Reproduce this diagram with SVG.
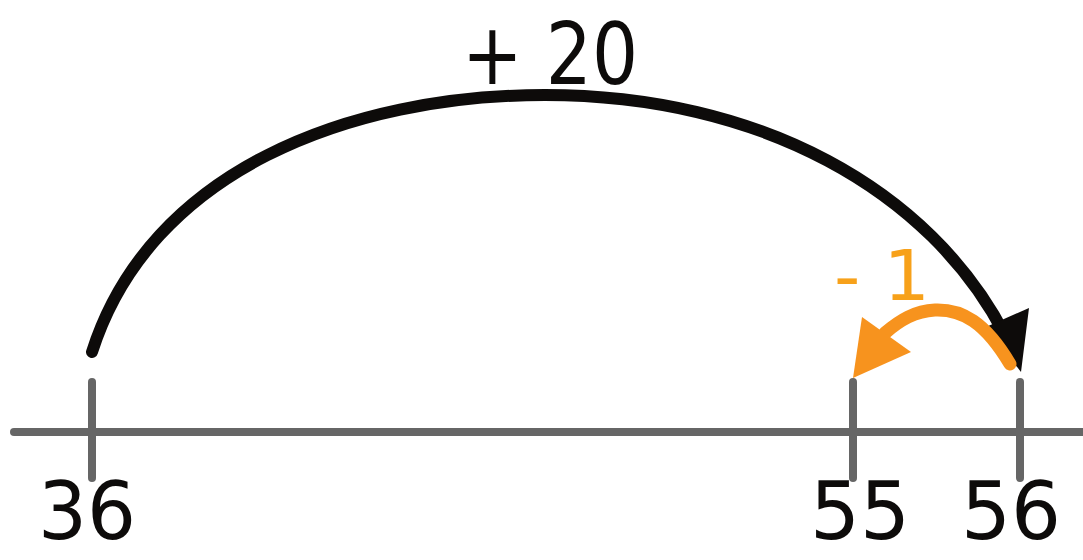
<svg xmlns="http://www.w3.org/2000/svg" width="1083" height="560" viewBox="0 0 1083 560">
<style>
.axis{stroke:#666;stroke-width:8;stroke-linecap:round;fill:none}
.lbl{font-family:"Comic Sans MS","DejaVu Sans","Liberation Sans",sans-serif;fill:#0d0b0a}
.num{font-size:80px}
.jump{fill:none;stroke-linecap:round}
</style>
<rect width="1083" height="560" fill="#fff"/>
<g id="number-line">
<line class="axis" x1="14" y1="432" x2="1083" y2="432"/>
</g>
<g id="tick-36"><line class="axis" x1="92" y1="382" x2="92" y2="478"/><text class="lbl num" x="38" y="539" textLength="98" lengthAdjust="spacingAndGlyphs">36</text></g>
<g id="tick-55"><line class="axis" x1="853" y1="382" x2="853" y2="478"/><text class="lbl num" x="810" y="539" textLength="100" lengthAdjust="spacingAndGlyphs">55</text></g>
<g id="tick-56"><line class="axis" x1="1020" y1="382" x2="1020" y2="478"/><text class="lbl num" x="961" y="539" textLength="100" lengthAdjust="spacingAndGlyphs">56</text></g>
<g id="connectors">
<g id="jump-plus20">
<path class="jump" stroke="#0d0b0a" stroke-width="12" d="M92,352 C150,170 350,95 545,95 C760,95 930,190 1005,335"/>
<polygon fill="#0d0b0a" points="986,327 1029,308 1021,372"/>
</g>
<g id="jump-minus1">
<path class="jump" stroke="#f7931e" stroke-width="13" d="M1010,364 C985,322 962,309 935,310 C915,311 900,320 885,333"/>
<polygon fill="#f7931e" points="862,317 853,378 911,352"/>
</g>
</g>
<g id="label-plus20"><text class="lbl" x="462" y="84" font-size="86" textLength="176" lengthAdjust="spacingAndGlyphs">+ 20</text></g>
<g id="label-minus1"><text class="lbl" x="834" y="300" font-size="70" textLength="96" lengthAdjust="spacingAndGlyphs" style="fill:#f7a11a">- 1</text></g>
</svg>
